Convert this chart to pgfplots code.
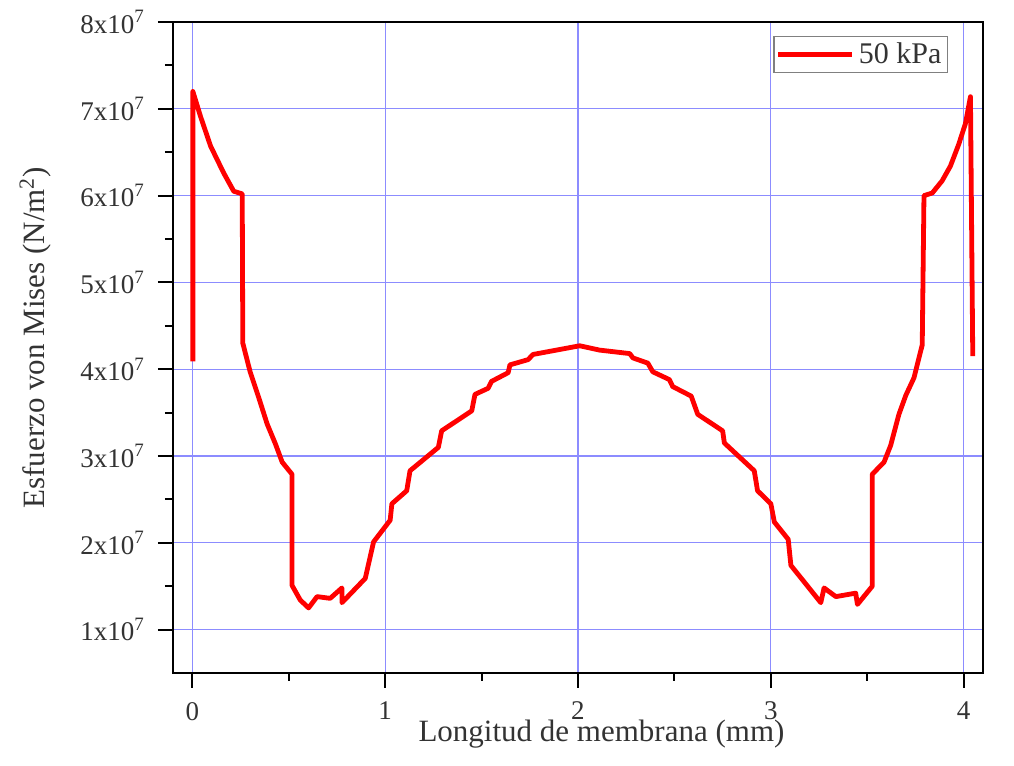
\documentclass[border=0pt]{standalone}
\usepackage{fontspec}
\setmainfont{Liberation Serif}
\usepackage{pgfplots}
\pgfplotsset{compat=1.18}

\definecolor{gridblue}{rgb}{0.55,0.55,1.0}
\definecolor{txt}{rgb}{0.2,0.2,0.2}

\begin{document}
\begin{tikzpicture}
\useasboundingbox (-86.5pt,-46.5pt) rectangle (420.5pt,336.5pt);
\begin{axis}[
  scale only axis,
  width=405pt, height=325.5pt,
  xmin=-0.1, xmax=4.1,
  ymin=0.5e7, ymax=8e7,
  xtick={0,1,2,3,4},
  ytick={1e7,2e7,3e7,4e7,5e7,6e7,7e7,8e7},
  yticklabels={1x10\textsuperscript{7},2x10\textsuperscript{7},3x10\textsuperscript{7},4x10\textsuperscript{7},
               5x10\textsuperscript{7},6x10\textsuperscript{7},7x10\textsuperscript{7},8x10\textsuperscript{7}},
  xticklabels={0,1,2,3,4},
  scaled y ticks=false,
  minor x tick num=1, minor y tick num=1,
  xtick pos=bottom, ytick pos=left,
  tick align=outside,
  major tick length=7.5pt, minor tick length=4pt,
  tick style={black, line width=1pt},
  axis line style={black, line width=1pt},
  grid=major,
  major grid style={gridblue, line width=0.6pt},
  tick label style={font=\fontsize{13.5}{15}\selectfont, color=txt},
  xticklabel style={yshift=-3.5pt},
  yticklabel style={xshift=-3pt},
  xlabel={Longitud de membrana (mm)},
  ylabel={Esfuerzo von Mises (N/m\textsuperscript{2})},
  label style={font=\fontsize{15.5}{18}\selectfont, color=txt},
  xlabel style={at={(axis description cs:0.529,-0.094)}, anchor=center},
  ylabel style={at={(axis description cs:-0.17,0.515)}, anchor=center},
  legend style={at={(axis description cs:1,1)}, anchor=north east,
    xshift=-17.5pt, yshift=-7pt, draw=gray, line width=0.6pt,
    font=\fontsize{15}{17}\selectfont, text=txt, inner sep=1pt},
  legend image code/.code={\draw[#1, line width=2.4pt] (0pt,0pt) -- (37pt,0pt);},
]
\addplot[red, line width=2.4pt, line join=round] coordinates {
  (0.003,4.09e7) (0.003,7.20e7) (0.043,6.91e7) (0.095,6.57e7) (0.163,6.26e7)
  (0.215,6.05e7) (0.259,6.02e7) (0.262,4.30e7) (0.300,3.97e7) (0.345,3.67e7)
  (0.388,3.37e7) (0.431,3.14e7) (0.466,2.93e7) (0.517,2.79e7) (0.517,1.51e7)
  (0.560,1.34e7) (0.603,1.25e7) (0.647,1.38e7) (0.715,1.36e7) (0.776,1.48e7)
  (0.776,1.31e7) (0.897,1.59e7) (0.940,2.01e7) (1.026,2.26e7) (1.035,2.45e7)
  (1.112,2.60e7) (1.129,2.83e7) (1.276,3.10e7) (1.293,3.29e7) (1.449,3.52e7)
  (1.466,3.71e7) (1.534,3.78e7) (1.552,3.86e7) (1.638,3.96e7) (1.647,4.05e7)
  (1.741,4.11e7) (1.767,4.17e7) (2.009,4.27e7) (2.112,4.22e7) (2.268,4.18e7)
  (2.285,4.13e7) (2.362,4.07e7) (2.388,3.97e7) (2.474,3.88e7) (2.491,3.80e7)
  (2.587,3.69e7) (2.621,3.48e7) (2.750,3.29e7) (2.759,3.15e7) (2.914,2.83e7)
  (2.931,2.60e7) (3.000,2.45e7) (3.018,2.24e7) (3.090,2.04e7) (3.104,1.74e7)
  (3.259,1.31e7) (3.276,1.48e7) (3.337,1.38e7) (3.440,1.42e7) (3.449,1.29e7)
  (3.526,1.50e7) (3.526,2.79e7) (3.587,2.93e7) (3.621,3.12e7) (3.664,3.48e7)
  (3.700,3.70e7) (3.742,3.90e7) (3.785,4.28e7) (3.794,6.00e7) (3.837,6.03e7)
  (3.888,6.17e7) (3.931,6.34e7) (3.974,6.59e7) (4.009,6.83e7) (4.035,7.14e7)
  (4.047,4.15e7)
};
\addlegendentry{50 kPa}
\end{axis}
\end{tikzpicture}
\end{document}
